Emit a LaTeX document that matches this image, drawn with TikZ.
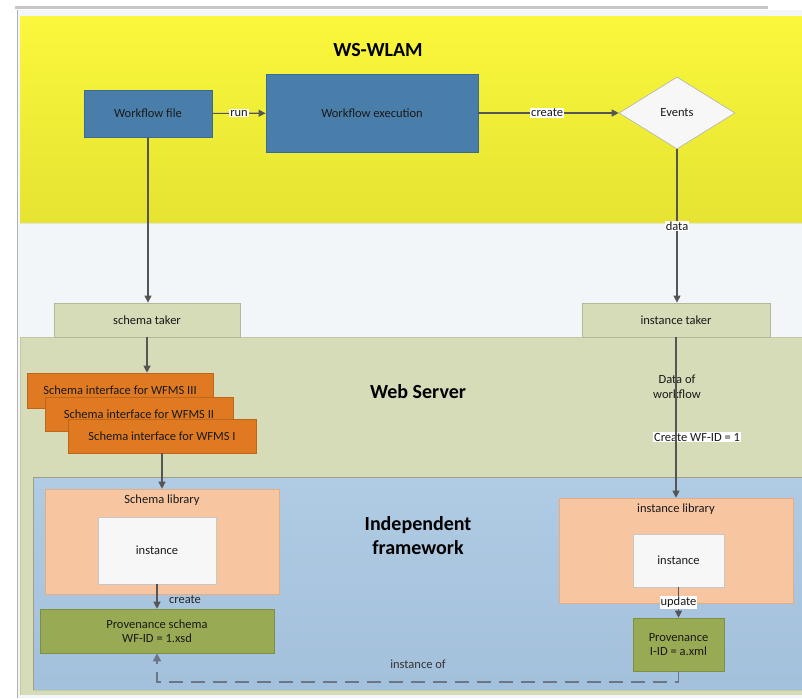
\documentclass[tikz,border=0pt]{standalone}
\usepackage{fontspec}
\setmainfont{Carlito}
\usetikzlibrary{shapes.geometric,arrows.meta}

\definecolor{yelTop}{HTML}{FAF73C}
\definecolor{yelBot}{HTML}{E6E332}
\definecolor{paleBg}{HTML}{F3F6F9}
\definecolor{olivePanel}{HTML}{D7DCB8}
\definecolor{oliveLine}{HTML}{C3C9A3}
\definecolor{blueTop}{HTML}{B0CBE3}
\definecolor{blueBot}{HTML}{A3C0DC}
\definecolor{stepBlue}{HTML}{4A7EAA}
\definecolor{stepBlueLine}{HTML}{3A6A95}
\definecolor{takerFill}{HTML}{D6DBB8}
\definecolor{takerLine}{HTML}{B3B899}
\definecolor{ifaceOrange}{HTML}{E07A22}
\definecolor{ifaceLine}{HTML}{BF661B}
\definecolor{libPeach}{HTML}{F7C59F}
\definecolor{libLine}{HTML}{E3AE86}
\definecolor{provGreen}{HTML}{98AA53}
\definecolor{provLine}{HTML}{7E8F40}
\definecolor{arrowGray}{HTML}{555555}
\definecolor{dashGray}{HTML}{6B7785}

\tikzset{
  txt/.style={font=\fontsize{12.5}{14.5}\selectfont, text=black!90, align=center},
  title/.style={font=\fontsize{20}{24}\selectfont\bfseries, text=black, align=center},
  bluebox/.style={txt, draw=stepBlueLine, fill=stepBlue, line width=0.8pt},
  takerbox/.style={txt, draw=takerLine, fill=takerFill, line width=0.8pt},
  ifacebox/.style={txt, draw=ifaceLine, fill=ifaceOrange, line width=0.6pt},
  libbox/.style={draw=libLine, fill=libPeach, line width=0.6pt},
  instbox/.style={txt, draw=black!22, fill=white!97!black, line width=0.6pt},
  provbox/.style={txt, draw=provLine, fill=provGreen, line width=0.6pt},
  arr/.style={draw=arrowGray, line width=1.1pt, -{Triangle[length=7pt,width=7pt]}},
  lbl/.style={txt, fill=white, inner sep=1pt},
}

\begin{document}
\begin{tikzpicture}[x=1pt, y=-1pt]
\useasboundingbox (0,0) rectangle (802,698);
\fill[white] (0,0) rectangle (802,698);

% window frame
\fill[black!22] (15,6) rectangle (768,9);
\fill[paleBg] (17,10) rectangle (802,698);
\draw[black!30, line width=0.8pt] (17,10) -- (17,698);

% panels
\shade[top color=yelTop, bottom color=yelBot] (20,17) rectangle (802,223);
\draw[black!10] (20,223) -- (802,223);
\fill[olivePanel] (20,337) rectangle (802,695);
\draw[oliveLine, line width=0.8pt] (20,695) -- (20,337) -- (802,337);
\shade[top color=blueTop, bottom color=blueBot] (33,477) rectangle (802,690);
\draw[oliveLine!80!black, line width=0.6pt] (33,690) -- (33,477) -- (802,477);
\draw[oliveLine, line width=0.6pt] (33,690) -- (802,690);

% titles
\node[title] (tWS) at (378,50) {WS-WLAM};
\node[title] (tWeb) at (418,392) {Web Server};
\node[title] (tInd) at (418,536) {Independent\\framework};

% WS-WLAM
\node[bluebox, minimum width=128, minimum height=47] (wf) at (148,113.5) {Workflow file};
\node[bluebox, minimum width=212, minimum height=78] (we) at (372,113) {Workflow execution};
\node[txt, diamond, draw=black!30, fill=white!97!black, minimum width=116, minimum height=72,
      inner sep=0pt, line width=0.6pt] (ev) at (677,113) {Events};

% takers
\node[takerbox, minimum width=186, minimum height=34] (st) at (147,320) {schema taker};
\node[takerbox, minimum width=188, minimum height=34] (it) at (676,320) {instance taker};

% schema interfaces
\node[ifacebox, minimum width=186, minimum height=35] (si3) at (120,390.5) {Schema interface for WFMS III};
\node[ifacebox, minimum width=188, minimum height=34] (si2) at (139,414) {Schema interface for WFMS II};
\node[ifacebox, minimum width=188, minimum height=34] (si1) at (162,436) {Schema interface for WFMS I};

% libraries
\node[libbox, minimum width=234, minimum height=105] (sl) at (162,541.5) {};
\node[txt] (slT) at (162,500) {Schema library};
\node[instbox, minimum width=118, minimum height=67] (sInst) at (157,550.5) {instance};
\node[provbox, minimum width=234, minimum height=44] (ps) at (157,631) {Provenance schema\\WF-ID = 1.xsd};

\node[libbox, minimum width=234, minimum height=105] (il) at (676,550.5) {};
\node[txt] (ilT) at (676,509) {instance library};
\node[instbox, minimum width=91, minimum height=53] (iInst) at (678.5,560.5) {instance};
\node[provbox, minimum width=91, minimum height=53] (pv) at (678.5,644.5) {Provenance\\I-ID = a.xml};

% connectors
\draw[arr] (wf) -- node[lbl] {run} (we);
\draw[arr] (we) -- node[lbl, pos=0.49] {create} (ev);
\draw[arr] (wf.south) -- (wf.south |- st.north);
\draw[arr] (ev.south) -- node[lbl, pos=0.5] {data} (ev.south |- it.north);
\draw[arr] (st.south) -- (st.south |- si3.north);
\draw[arr] (si1.south) -- (si1.south |- sl.north);

\node[txt] (dataWf) at (677,387) {Data of\\workflow};
\node[lbl] (wfid) at (697,437) {Create WF-ID = 1};
\draw[arr] (it.south) -- (it.south |- il.north);

\draw[arr] (sInst.south) -- (ps.north);
\node[txt, text=black!85] (crt) at (185,600) {create};
\draw[arr] (iInst.south) -- node[lbl, pos=0.5] {update} (pv.north);

\coordinate (dashTurn) at (678.5,682);
\draw[dashGray, line width=1.8pt, dash pattern=on 14pt off 8pt, -{Triangle[length=8pt,width=8pt]}]
  (pv.south) -- (dashTurn) -| (ps.south);
\node[txt, text=black!80] (instOf) at (418,664) {instance of};
\end{tikzpicture}
\end{document}
